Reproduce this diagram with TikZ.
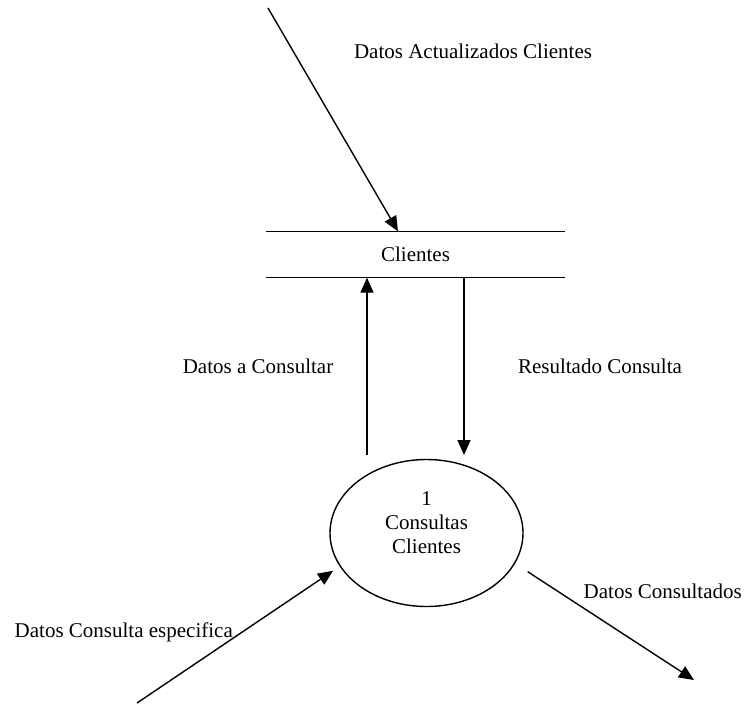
\documentclass[tikz,border=0pt]{standalone}
\usepackage{fontspec}
\setmainfont{Liberation Serif}
\usetikzlibrary{arrows.meta,shapes.geometric}

\begin{document}
\begin{tikzpicture}[x=1pt,y=-1pt,line width=1.4pt,
    flow/.style={-{Triangle[length=15pt,width=13pt]}},
    lbl/.style={inner sep=0pt,font=\fontsize{21}{24}\selectfont}]
      \useasboundingbox (0,0) rectangle (746,704);
      \node[lbl,minimum width=297pt,minimum height=45pt] (clientes) at (415.5,254.5) {Clientes};
      \draw (clientes.north west) -- (clientes.north east);
      \draw (clientes.south west) -- (clientes.south east);
      \node[lbl,draw,ellipse,minimum width=193pt,minimum height=147pt,align=center,text depth=20pt] (consultas) at (426.5,533) {1\\Consultas\\Clientes};
      \coordinate (act) at (268,8);
      \draw[flow] (act) -- ([xshift=-17.5pt]clientes.north);
      \coordinate (dac) at (367,455);
      \draw[flow] (dac) -- (dac |- clientes.south);
      \coordinate (res) at (464,455);
      \draw[flow] (res |- clientes.south) -- (res);
      \coordinate (esp) at (137,703);
      \draw[flow,shorten >=8pt] (esp) -- (consultas.201);
      \coordinate (dcons) at (694,680);
      \draw[flow,shorten <=15pt] (consultas.341) -- (dcons);
      \node[lbl,anchor=base] (lact) at (473,58) {Datos Actualizados Clientes};
      \node[lbl,anchor=base] (ldac) at (258,373) {Datos a Consultar};
      \node[lbl,anchor=base] (lres) at (600,373) {Resultado Consulta};
      \node[lbl,anchor=base west] (lesp) at (14,637) {Datos Consulta especifica};
      \node[lbl,anchor=base west] (lcons) at (583,598) {Datos Consultados};
    \end{tikzpicture}
\end{document}
